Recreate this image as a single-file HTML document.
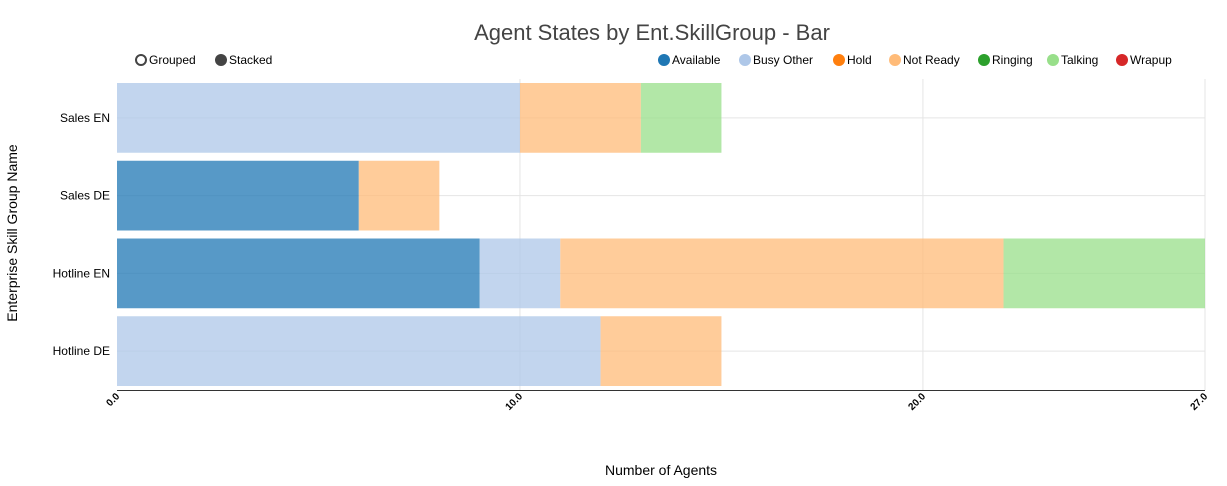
<!DOCTYPE html>
<html><head><meta charset="utf-8"><style>
body{margin:0;background:#fff;font-family:"Liberation Sans",Arial,sans-serif}
svg text{font-family:"Liberation Sans",Arial,sans-serif}
</style></head><body>
<svg id="chart" width="1227" height="481" viewBox="0 0 1227 481">
<text x="652" y="40" text-anchor="middle" font-size="22" fill="#444">Agent States by Ent.SkillGroup - Bar</text>
<g>
<circle cx="141" cy="60" r="5" fill="none" stroke="#444" stroke-width="2"/>
<text x="149" y="64" font-size="12" fill="#000">Grouped</text>
<circle cx="221" cy="60" r="6" fill="#444"/>
<text x="229" y="64" font-size="12" fill="#000">Stacked</text>
</g>
<g id="legend"></g>
<g id="grid"></g>
<g id="bars"></g>
<g id="axes"></g>
<text x="661" y="475" text-anchor="middle" font-size="14" fill="#000">Number of Agents</text>
<text transform="translate(17,233) rotate(-90)" text-anchor="middle" font-size="14" fill="#000">Enterprise Skill Group Name</text>
</svg>
<script>
const categories = ["Sales EN","Sales DE","Hotline EN","Hotline DE"];
const seriesNames = ["Available","Busy Other","Hold","Not Ready","Ringing","Talking","Wrapup"];
const available = [0,6,9,0];
const busyOther = [10,0,2,12];
const hold = [0,0,0,0];
const notReady = [3,2,11,3];
const ringing = [0,0,0,0];
const talking = [2,0,5,0];
const wrapup = [0,0,0,0];
const xTicks = [0,10,20,27];
const xTickLabels = ["0.0","10.0","20.0","27.0"];
const xMax = 27;

const colors = ["#1f77b4","#aec7e8","#ff7f0e","#ffbb78","#2ca02c","#98df8a","#d62728"];
const series = [available,busyOther,hold,notReady,ringing,talking,wrapup];
const NS="http://www.w3.org/2000/svg";
const L=117,R=1205,T=79,B=390;
const x=v=>L+(R-L)*v/xMax;
const band=(B-T)/categories.length;
const y=i=>T+band*i;
function mk(tag,attrs,parent){const e=document.createElementNS(NS,tag);for(const k in attrs)e.setAttribute(k,attrs[k]);parent.appendChild(e);return e;}
const grid=document.getElementById('grid'),bars=document.getElementById('bars'),axes=document.getElementById('axes'),legend=document.getElementById('legend');

// legend
const legX=[664,745,839,895,984,1053,1122];
seriesNames.forEach((n,i)=>{
  const c=mk('circle',{cx:legX[i],cy:60,r:6,fill:colors[i]},legend);
  
  
  const t=mk('text',{x:legX[i]+8,y:64,'font-size':12,fill:'#000'},legend);
  t.textContent=n;
  
  
});
// grid
xTicks.forEach((v,i)=>{
  if(i>0){const g=mk('line',{x1:x(v),x2:x(v),y1:T,y2:B,stroke:'#e5e5e5'},grid);
  
  }
});
categories.forEach((c,i)=>{
  const g=mk('line',{x1:L,x2:R,y1:y(i)+band/2,y2:y(i)+band/2,stroke:'#e5e5e5'},grid);
  
  
  const t=mk('text',{x:L-7,y:y(i)+band/2+4,'text-anchor':'end','font-size':12,fill:'#000'},axes);
  t.textContent=c;
  
  
});
// bars
categories.forEach((c,i)=>{
  let acc=0;
  series.forEach((s,k)=>{
    const v=s[i]; if(!v)return;
    const r=mk('rect',{x:x(acc),y:y(i)+4,width:x(acc+v)-x(acc),height:band-8,fill:colors[k],'fill-opacity':0.75},bars);
    
    
    acc+=v;
  });
});
// x axis
const ax=mk('line',{x1:L,x2:R,y1:B+0.5,y2:B+0.5,stroke:'#333','stroke-width':1},axes);


xTicks.forEach((v,i)=>{
  const t=mk('text',{transform:`translate(${x(v)+3},${B+7}) rotate(-45)`,'text-anchor':'end','font-size':10,'font-weight':'bold',fill:'#000'},axes);
  t.textContent=xTickLabels[i];
  
  
});
</script>
</body></html>
